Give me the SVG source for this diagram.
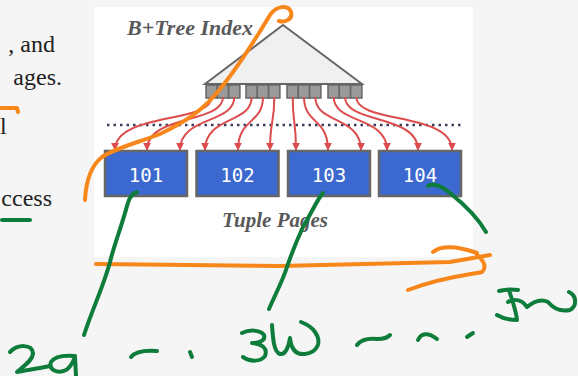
<svg xmlns="http://www.w3.org/2000/svg" width="578" height="376" viewBox="0 0 578 376">
<defs>
<style>
.side{font-family:"Liberation Serif","DejaVu Serif",serif;font-size:24px;fill:#222}
.title{font-family:"Liberation Serif","DejaVu Serif",serif;font-weight:bold;font-style:italic;fill:#595959}
.leaf{fill:#9a9a9a;stroke:#666;stroke-width:1.5}
.page rect{fill:#3c69cf;stroke:#666;stroke-width:2.5}
.page text{font-family:"DejaVu Sans Mono","Liberation Mono",monospace;font-size:19px;fill:#fff;text-anchor:middle}
.arr{fill:none;stroke:#dc4c4c;stroke-width:2;marker-end:url(#ah)}
.org{fill:none;stroke:#f7861b;stroke-width:4;stroke-linecap:round;stroke-linejoin:round}
.grn{fill:none;stroke:#0e7c3a;stroke-width:4;stroke-linecap:round;stroke-linejoin:round}
</style>
<marker id="ah" viewBox="0 0 10 10" refX="9" refY="5" markerWidth="8" markerHeight="8" markerUnits="userSpaceOnUse" orient="auto">
<path d="M0,0 L10,5 L0,10 z" fill="#dc4c4c"/>
</marker>
</defs>
<rect x="0" y="0" width="578" height="376" fill="#f5f5f5"/>
<rect x="94" y="7" width="379" height="250" fill="#ffffff"/>
<g id="side-text">
<text class="side" x="55" y="52" text-anchor="end">, and</text>
<text class="side" x="62" y="85" text-anchor="end">ages.</text>
<text class="side" x="0" y="134">l</text>
<text class="side" x="52" y="206" text-anchor="end">ccess</text>
</g>
<g id="btree">
<text class="title" x="127" y="35" font-size="22">B+Tree Index</text>
<polygon points="283,25 362,84 205,84" fill="#f0f0f0" stroke="#666" stroke-width="2"/>
<rect class="leaf" x="206" y="85" width="11.3" height="13"/>
<rect class="leaf" x="217.3" y="85" width="11.3" height="13"/>
<rect class="leaf" x="228.6" y="85" width="11.3" height="13"/>
<rect class="leaf" x="246" y="85" width="11.3" height="13"/>
<rect class="leaf" x="257.3" y="85" width="11.3" height="13"/>
<rect class="leaf" x="268.6" y="85" width="11.3" height="13"/>
<rect class="leaf" x="287" y="85" width="11.3" height="13"/>
<rect class="leaf" x="298.3" y="85" width="11.3" height="13"/>
<rect class="leaf" x="309.6" y="85" width="11.3" height="13"/>
<rect class="leaf" x="328" y="85" width="11.3" height="13"/>
<rect class="leaf" x="339.3" y="85" width="11.3" height="13"/>
<rect class="leaf" x="350.6" y="85" width="11.3" height="13"/>
</g>
<line x1="107" y1="125" x2="462" y2="125" stroke="#3b3b5c" stroke-width="2.5" stroke-dasharray="2.5 4"/>
<g id="connectors">
<path class="arr" d="M211.7,97 C211.7,124 115,112 115,150"/>
<path class="arr" d="M223,97 C223,124 147,114 147,150"/>
<path class="arr" d="M234.3,97 C234.3,124 180,116 180,150"/>
<path class="arr" d="M251.7,97 C251.7,124 205,116 205,150"/>
<path class="arr" d="M263,97 C263,124 238,118 238,150"/>
<path class="arr" d="M274.3,97 C274.3,124 270,120 270,150"/>
<path class="arr" d="M292.7,97 C292.7,124 296,120 296,150"/>
<path class="arr" d="M304,97 C304,124 328,118 328,150"/>
<path class="arr" d="M315.3,97 C315.3,124 361,116 361,150"/>
<path class="arr" d="M333.7,97 C333.7,124 387,116 387,150"/>
<path class="arr" d="M345,97 C345,124 418,114 418,150"/>
<path class="arr" d="M356.3,97 C356.3,124 452,112 452,150"/>
</g>
<g id="page-101" class="page"><rect x="105" y="151" width="82" height="45"/><text x="146" y="182">101</text></g>
<g id="page-102" class="page"><rect x="196.5" y="151" width="82" height="45"/><text x="237.5" y="182">102</text></g>
<g id="page-103" class="page"><rect x="288" y="151" width="82" height="45"/><text x="329" y="182">103</text></g>
<g id="page-104" class="page"><rect x="379" y="151" width="82" height="45"/><text x="420" y="182">104</text></g>
<text class="title" x="275" y="227" font-size="21" text-anchor="middle">Tuple Pages</text>
<g id="ink">
<path class="org" d="M0,108 L17,108 L18,112"/>
<path class="org" d="M85,200 C86,180 92,165 102,157 C115,148 140,142 160,134 C185,122 200,112 215,95 C235,72 255,40 270,15 C276,6 288,4 291,12 C293,19 285,23 279,21"/>
<path class="org" d="M96,264 L280,266 L450,262 L490,255"/>
<path class="org" d="M433,252 C440,246 455,245 477,253"/>
<path class="org" d="M477,255 C482,259 488,266 482,272 C470,275 445,276 408,290"/>
<path class="grn" d="M2,220 L30,220"/>
<path class="grn" d="M137,192 C133,193 129,198 127,206 C122,225 114,245 110,262 C104,285 92,310 84,335"/>
<path class="grn" d="M323,193 C318,198 312,212 303,227 C297,240 290,258 287,267 C283,280 275,295 269,309"/>
<path class="grn" d="M428,186 C432,183 440,185 450,193 C465,205 478,218 486,232"/>
<path class="grn" d="M10,352 C18,344 32,344 33,353 C33,360 24,366 17,372 C28,370 40,368 50,366"/>
<path class="grn" d="M75,356 C65,355 55,356 51,362 C48,370 58,374 66,370 C71,367 73,362 75,357 L76,376"/>
<path class="grn" d="M131,357 C135,352 145,350 157,351"/>
<path class="grn" d="M190,352 L192,357"/>
<path class="grn" d="M242,333 C248,330 260,329 264,335 C266,341 258,343 252,343 C262,344 268,348 265,356 C261,362 250,362 243,357"/>
<path class="grn" d="M272,325 C273,340 274,352 280,354 C286,355 289,345 290,338 C291,348 295,355 305,354 C318,352 322,342 315,332 C312,327 306,324 301,322"/>
<path class="grn" d="M357,345 C362,338 370,338 378,339 C384,339 388,337 390,335"/>
<path class="grn" d="M418,340 C421,333 428,332 437,339"/>
<path class="grn" d="M467,337 L473,333"/>
<path class="grn" d="M499,291 C506,289 512,289 518,290"/>
<path class="grn" d="M509,290 C512,300 516,310 517,320 C510,320 502,318 497,315"/>
<path class="grn" d="M508,302 C515,298 522,300 527,307 C533,302 540,298 548,302 C553,308 560,312 570,310 C577,306 577,296 569,292"/>
</g>
</svg>
